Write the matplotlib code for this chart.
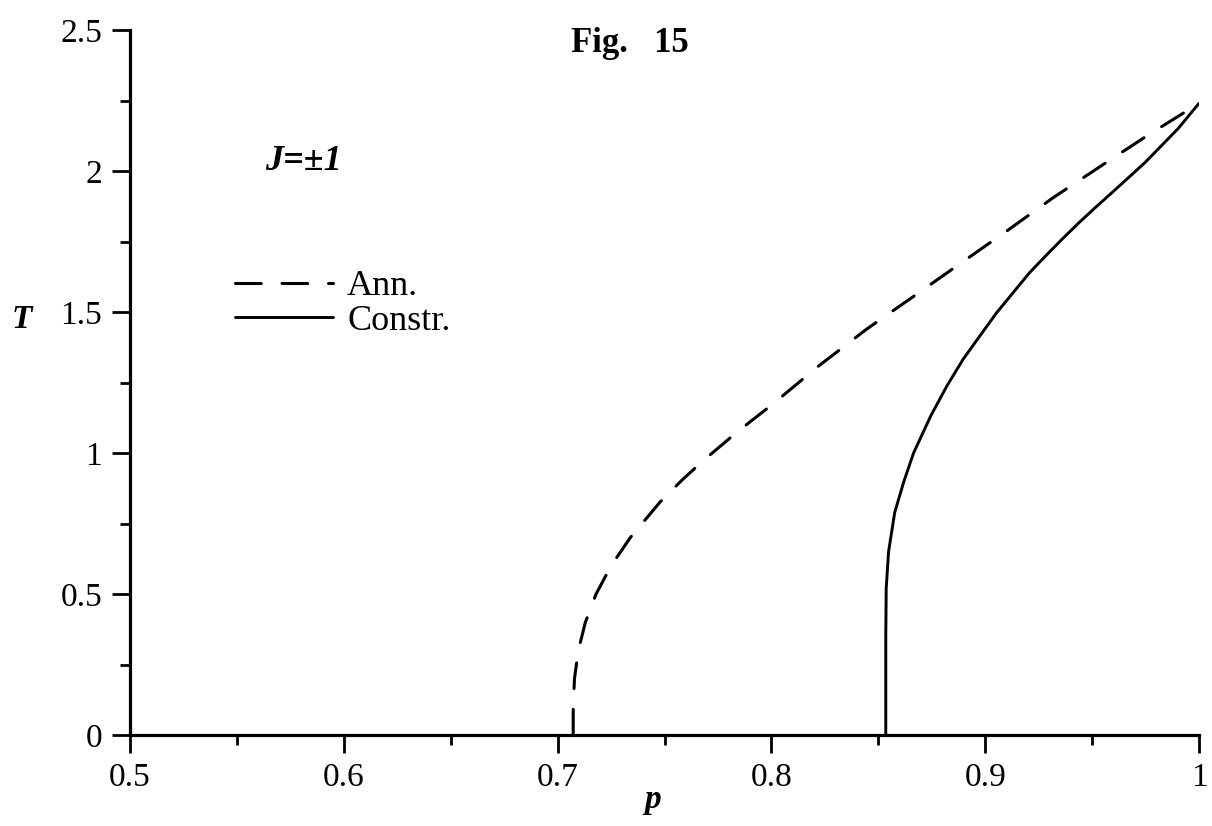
import matplotlib
matplotlib.use("Agg")
import matplotlib.pyplot as plt
from matplotlib.ticker import MultipleLocator

plt.rcParams['font.family'] = ['Liberation Serif', 'DejaVu Serif']
plt.rcParams['lines.scale_dashes'] = False

# Data
ann_p = [0.7073, 0.7073, 0.7079, 0.7097, 0.7130, 0.7180, 0.7250, 0.7340,
         0.7478, 0.7586, 0.7686, 0.7803, 0.7896, 0.8004, 0.8220, 0.8445,
         0.8670, 0.8880, 0.9104, 0.9321, 0.9546, 0.9761, 1.0]
ann_T = [0.0, 0.10, 0.20, 0.30, 0.40, 0.50, 0.60, 0.70,
         0.825, 0.907, 0.976, 1.051, 1.108, 1.172, 1.308, 1.439,
         1.558, 1.670, 1.789, 1.907, 2.020, 2.127, 2.24]

con_p = [0.8535, 0.8535, 0.8537, 0.8548, 0.8577, 0.8620, 0.8665, 0.8745, 0.8821,
         0.8898, 0.8975, 0.9053, 0.9130, 0.9207, 0.9284, 0.9362, 0.9439, 0.9516,
         0.9594, 0.9671, 0.9749, 0.9826, 0.9903, 1.0]
con_T = [0.0, 0.35, 0.52, 0.65, 0.79, 0.90, 1.00, 1.131, 1.238,
         1.334, 1.415, 1.497, 1.568, 1.639, 1.700, 1.760, 1.817, 1.871,
         1.924, 1.977, 2.031, 2.091, 2.151, 2.24]

x_ticks = [0.5, 0.6, 0.7, 0.8, 0.9, 1.0]
x_labels = ['0.5', '0.6', '0.7', '0.8', '0.9', '1']
y_ticks = [0, 0.5, 1, 1.5, 2, 2.5]
y_labels = ['0', '0.5', '1', '1.5', '2', '2.5']
series_labels = ['Ann.', 'Constr.']

W, H = 1212, 826
fig = plt.figure(figsize=(W / 100, H / 100), dpi=100)
ax = fig.add_axes([130 / W, 1 - 735 / H, (1199 - 130) / W, (735 - 30) / H])

l1, = ax.plot(ann_p, ann_T, color='black', lw=2.2, linestyle=(0, (18.5, 15)),
              dash_capstyle='round', solid_capstyle='round')
l2, = ax.plot(con_p, con_T, color='black', lw=2.1, solid_capstyle='round')

ax.set_xlim(0.5, 1.0)
ax.set_ylim(0, 2.5)
ax.set_xticks(x_ticks)
ax.set_xticklabels(x_labels)
ax.set_yticks(y_ticks)
ax.set_yticklabels(y_labels)
ax.xaxis.set_minor_locator(MultipleLocator(0.05))
ax.yaxis.set_minor_locator(MultipleLocator(0.25))

for s in ['top', 'right']:
    ax.spines[s].set_visible(False)
for s in ['left', 'bottom']:
    ax.spines[s].set_linewidth(2.3)

ax.tick_params(which='major', direction='out', length=13, width=2.0, labelsize=24, pad=7)
ax.tick_params(which='minor', direction='out', length=7, width=2.0)

ax.set_xlabel('p', fontsize=24, fontweight='bold', fontstyle='italic', va='baseline')
ax.xaxis.set_label_coords((653 - 130) / 1069, (735 - 808) / 705)
ax.set_ylabel('T', fontsize=24, fontweight='bold', fontstyle='italic', rotation=0,
              ha='center', va='baseline')
ax.yaxis.set_label_coords((22 - 130) / 1069, (735 - 328) / 705)

fig.text(689 / W, 1 - 52 / H, 'Fig.   15', fontsize=25, fontweight='bold',
         ha='right', va='baseline')
fig.text(265 / W, 1 - 170 / H, 'J=±1', fontsize=26, fontweight='bold',
         fontstyle='italic', ha='left', va='baseline')

leg = ax.legend([l1, l2], series_labels, loc='upper left',
                bbox_to_anchor=(235 / W, 1 - 270 / H), bbox_transform=fig.transFigure,
                frameon=False, fontsize=26, handlelength=98 / 36.1, handletextpad=14 / 36.1,
                labelspacing=0.03, borderpad=0, borderaxespad=0)

fig.savefig('out.png', dpi=100)
